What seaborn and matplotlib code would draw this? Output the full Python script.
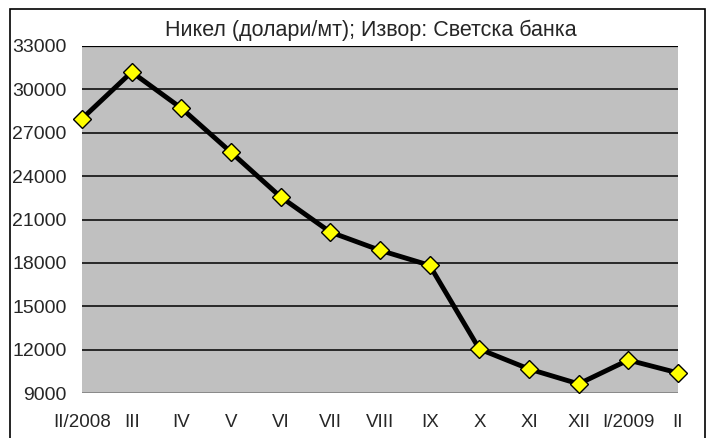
import matplotlib
matplotlib.use("Agg")
import matplotlib.pyplot as plt
import seaborn as sns
import pandas as pd
from matplotlib.patches import Rectangle

months = ["II/2008", "III", "IV", "V", "VI", "VII", "VIII", "IX", "X", "XI", "XII", "I/2009", "II"]
nickel = [27970, 31200, 28700, 25650, 22560, 20130, 18870, 17830, 12040, 10660, 9630, 11280, 10390]
yticks = [9000, 12000, 15000, 18000, 21000, 24000, 27000, 30000, 33000]
title = "Никел (долари/мт); Извор: Светска банка"

sns.set_theme(style="white")
plt.rcParams["font.family"] = ["Liberation Sans", "DejaVu Sans"]

df = pd.DataFrame({"month": months, "price": nickel})
df["pos"] = range(len(months))

fig = plt.figure(figsize=(7.06, 4.38), dpi=100)
ax = fig.add_axes([82 / 706, (438 - 393) / 438, (678 - 82) / 706, (393 - 46) / 438])
ax.set_facecolor("#C0C0C0")

for yv in yticks[1:]:
    ax.axhline(yv, color="black", lw=1.1, zorder=1)
ax.axhline(33000, color="black", lw=1.6, zorder=1)
ax.axhline(9000, color="#808080", lw=1.2, zorder=1)

sns.lineplot(data=df, x="pos", y="price", ax=ax, color="black", lw=3.5,
             marker="D", markersize=9.5, markerfacecolor="#FFFF00",
             markeredgecolor="black", markeredgewidth=1.0, sort=False, zorder=3,
             clip_on=False)

ax.set_xlim(0, len(months) - 1)
ax.set_ylim(9000, 33000)
ax.set_xticks(range(len(months)))
ax.set_xticklabels(months)
ax.set_yticks(yticks)
ax.set_yticklabels([str(v) for v in yticks])
ax.tick_params(axis="x", length=0, pad=15, labelsize=13.5)
ax.tick_params(axis="y", length=0, pad=11, labelsize=14)
ax.set_xlabel("")
ax.set_ylabel("")
for s in ax.spines.values():
    s.set_visible(False)

fig.text((158 + 583) / 2 / 706, 1 - 30 / 438, title, ha="center", va="center", fontsize=15.5)

fig.patches.append(Rectangle((10 / 706, -0.02), 695 / 706, (438 - 9) / 438 + 0.02,
                             transform=fig.transFigure, fill=False, edgecolor="black", lw=1.2))

fig.savefig("out.png", dpi=100)
